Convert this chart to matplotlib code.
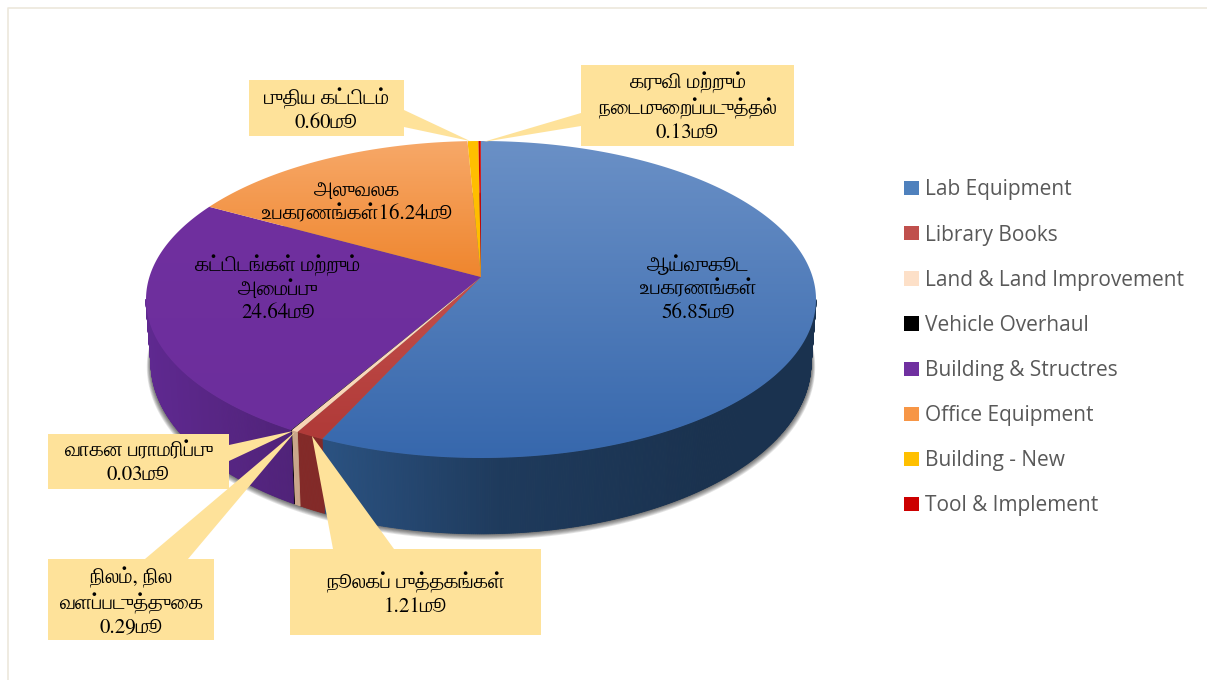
import numpy as np
import matplotlib
matplotlib.use("Agg")
import matplotlib.pyplot as plt
from matplotlib.colors import to_rgb
from matplotlib.patches import Patch, Polygon, Rectangle

legend_names = ["Lab Equipment", "Library Books", "Land & Land Improvement", "Vehicle Overhaul",
                "Building & Structres", "Office Equipment", "Building - New", "Tool & Implement"]
shares = [56.85, 1.21, 0.29, 0.03, 24.64, 16.24, 0.60, 0.13]

top_light = ["#6a90c6", "#c4504c", "#fde0c8", "#000000", "#70309f", "#f7a868", "#ffc000", "#cc0000"]
top_dark = ["#3768ad", "#b03a38", "#f8d4b4", "#000000", "#6c2e9c", "#ef862e", "#ffbc00", "#c00000"]
side_cols = [(42, 81, 128), (131, 42, 40), (200, 165, 138), (0, 0, 0),
             (79, 34, 120), (170, 95, 30), (180, 135, 0), (130, 0, 0)]
legend_cols = ["#4f81bd", "#c0504d", "#fde0c8", "#000000", "#7030a0", "#f79646", "#ffc000", "#cc0000"]

pie_labels = ["ஆய்வுகூட\nஉபகரணங்கள்\n56.85மூ", "அலுவலக\nஉபகரணங்கள்16.24மூ", "கட்டிடங்கள் மற்றும்\nஅமைப்பு\n24.64மூ"]
pie_label_xy = [(698, 289), (357, 203), (278, 289)]

callout_text = ["புதிய கட்டிடம்\n0.60மூ", "கருவி மற்றும்\nநடைமுறைப்படுத்தல்\n0.13மூ",
                "வாகன பராமரிப்பு\n0.03மூ", "நிலம், நில\nவளப்படுத்துகை\n0.29மூ",
                "நூலகப் புத்தகங்கள்\n1.21மூ"]
callout_box = [(249, 80, 404, 136), (581, 65, 794, 146), (48, 434, 229, 489),
               (48, 559, 214, 640), (290, 549, 541, 635)]
callout_base = [((404, 110), (404, 127)), ((581, 113), (581, 126)), ((229, 445), (229, 461)),
                ((145, 559), (188, 559)), ((333, 549), (394, 549))]
callout_tip = [(470, 141), (483, 142), (293, 431), (295, 432), (312, 436)]

TAMIL_FONT = ["FreeSerif", "Liberation Serif", "DejaVu Sans"]

# perspective of the round pie, in pixels of the picture
cx, cy = 481, 277
D, A, c = 331.6, 155.3, 0.142
DROP, BOTTOM_X, BOTTOM_Y = 61.7, 0.985, 1.078


def rim(theta, drop=0.0, sx=1.0, sy=1.0):
    w = 1 + c * np.cos(theta)
    return cx + sx * D * np.sin(theta) / w, cy + drop - sy * A * np.cos(theta) / w


def shade(x):
    return np.interp(x, [146, 300, 330, 500, 700, 816], [1.2, 1.0, 1.0, 0.72, 0.62, 0.62])


def shown(txt):
    # matplotlib does no Tamil shaping, so the vowel sign ை has to go before its consonant
    chars = list(txt)
    for k in range(1, len(chars)):
        if chars[k] == "ை":
            chars[k - 1], chars[k] = chars[k], chars[k - 1]
    return "".join(chars)


fig = plt.figure(figsize=(12.07, 6.8), dpi=100)
ax = fig.add_axes([0, 0, 1, 1])
ax.axis("off")

ax.plot([7.5, 7.5, 1207], [680, 7.5, 7.5], color="#ece8dc", lw=1.2)

# soft shadow round the lower rim
t = np.linspace(0, 2 * np.pi, 400)
for grow in range(1, 8):
    x, y = rim(t, DROP + grow * 0.5, BOTTOM_X + grow * 0.0018, BOTTOM_Y + grow * 0.002)
    ax.fill(x, y, color="black", alpha=0.1, lw=0, zorder=1)

edges = np.r_[0, np.cumsum(shares)] / 100 * 2 * np.pi

# side wall first, then the top face over it
for i in range(len(shares)):
    steps = np.linspace(edges[i], edges[i + 1], max(2, int((edges[i + 1] - edges[i]) * 200)))
    for a, b in zip(steps[:-1], steps[1:]):
        if np.cos((a + b) / 2) > -0.14:
            continue
        x1, y1 = rim(np.array([a, b]))
        x2, y2 = rim(np.array([b, a]), DROP, BOTTOM_X, BOTTOM_Y)
        col = np.clip(np.array(side_cols[i]) * shade((x1[0] + x1[1]) / 2) / 255, 0, 1)
        ax.fill(np.r_[x1, x2], np.r_[y1, y2], color=col, lw=0.6, zorder=2)

for i in range(len(shares)):
    t = np.linspace(edges[i], edges[i + 1], max(3, int((edges[i + 1] - edges[i]) * 120)))
    x, y = rim(t)
    x = np.r_[cx, x]
    y = np.r_[cy, y]
    face = Polygon(np.c_[x, y], closed=True, transform=ax.transData, fc="none", lw=0)
    ax.add_patch(face)
    grad = np.linspace(to_rgb(top_light[i]), to_rgb(top_dark[i]), 64)[:, None, :]
    im = ax.imshow(grad, extent=[x.min(), x.max(), y.max(), y.min()], aspect="auto", zorder=3,
                   interpolation="bilinear")
    im.set_clip_path(face)

for txt, (x, y) in zip(pie_labels, pie_label_xy):
    ax.text(x, y, shown(txt), ha="center", va="center", fontsize=15, family=TAMIL_FONT, color="black",
            linespacing=1.25, zorder=6)

for txt, box, base, tip in zip(callout_text, callout_box, callout_base, callout_tip):
    x0, y0, x1, y1 = box
    ax.add_patch(Polygon([base[0], tip, base[1]], closed=True, fc="#fee29a", lw=0, zorder=4))
    ax.add_patch(Rectangle((x0, y0), x1 - x0, y1 - y0, fc="#fee29a", lw=0, zorder=5))
    ax.text((x0 + x1) / 2, (y0 + y1) / 2 + 2, shown(txt), ha="center", va="center", fontsize=15,
            family=TAMIL_FONT, color="black", linespacing=1.25, zorder=6)

handles = [Patch(fc=col, lw=0) for col in legend_cols]
ax.legend(handles, legend_names, loc="upper left", bbox_to_anchor=(896 / 1207, 1 - 171 / 680),
          frameon=False, handlelength=0.68, handleheight=0.68, handletextpad=0.29,
          labelspacing=1.16, borderpad=0.4, borderaxespad=0,
          prop={"family": "Open Sans", "size": 15}, labelcolor="#595959")

ax.set_xlim(0, 1207)
ax.set_ylim(680, 0)

fig.savefig("out.png", dpi=100, facecolor="white")
